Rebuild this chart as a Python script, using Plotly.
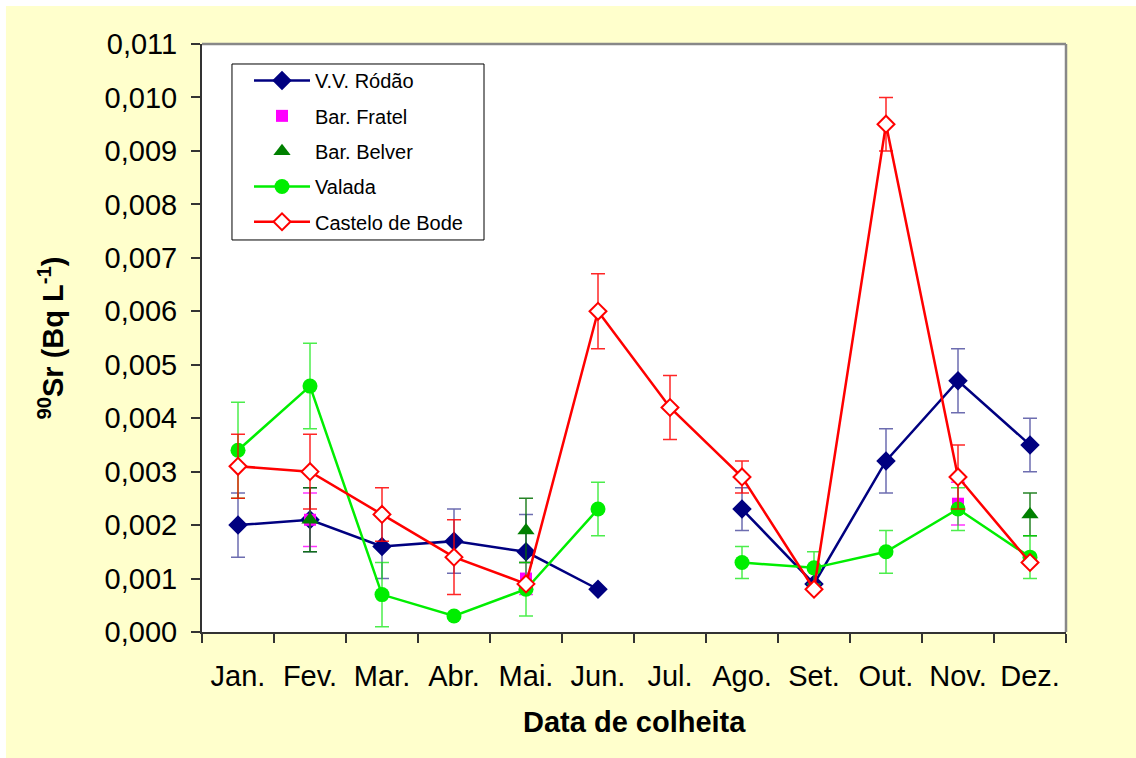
import plotly.graph_objects as go

months = ["Jan.", "Fev.", "Mar.", "Abr.", "Mai.", "Jun.", "Jul.", "Ago.", "Set.", "Out.", "Nov.", "Dez."]

rodao = [0.0020, 0.0021, 0.0016, 0.0017, 0.0015, 0.0008, None, 0.0023, 0.0009, 0.0032, 0.0047, 0.0035]
rodao_err = [0.0006, 0.0006, 0.0006, 0.0006, 0.0007, 0, 0, 0.0004, 0, 0.0006, 0.0006, 0.0005]

fratel = [None, 0.0021, None, None, 0.0010, None, None, None, None, None, 0.0024, None]
fratel_err = [0, 0.0005, 0, 0, 0.0003, 0, 0, 0, 0, 0, 0.0004, 0]

belver = [None, 0.0021, None, None, 0.0019, None, None, None, None, None, None, 0.0022]
belver_err = [0, 0.0006, 0, 0, 0.0006, 0, 0, 0, 0, 0, 0, 0.0004]

valada = [0.0034, 0.0046, 0.0007, 0.0003, 0.0008, 0.0023, None, 0.0013, 0.0012, 0.0015, 0.0023, 0.0014]
valada_err = [0.0009, 0.0008, 0.0006, 0, 0.0005, 0.0005, 0, 0.0003, 0.0003, 0.0004, 0.0004, 0.0004]

castelo = [0.0031, 0.0030, 0.0022, 0.0014, 0.0009, 0.0060, 0.0042, 0.0029, 0.0008, 0.0095, 0.0029, 0.0013]
castelo_err = [0.0006, 0.0007, 0.0005, 0.0007, 0, 0.0007, 0.0006, 0.0003, 0, 0.0005, 0.0006, 0]

y_ticks = [i / 1000 for i in range(0, 12)]

FONT = "Liberation Sans, Arial, sans-serif"

fig = go.Figure()

def add(name, y, err, color, errcolor, symbol, size, mode, fill=None, lw=2.5, group="g"):
    fig.add_trace(go.Scatter(
        x=months, y=y, name=name, mode=mode, legendgroup=group,
        connectgaps=False,
        line=dict(color=color, width=lw),
        marker=dict(symbol=symbol, size=size, color=fill if fill else color,
                    line=dict(color=color, width=2 if fill else 0)),
        error_y=dict(type="data", array=err, visible=True, color=errcolor,
                     thickness=1.5, width=7),
    ))

add("V.V. Ródão", rodao, rodao_err, "#000080", "rgba(60,60,150,0.75)", "diamond", 15, "lines+markers", group="a")
add("Bar. Fratel", fratel, fratel_err, "#FF00FF", "rgba(255,0,255,0.8)", "square", 12, "markers", group="b")
add("Bar. Belver", belver, belver_err, "#008000", "rgba(0,110,0,0.85)", "triangle-up", 15, "markers", group="c")
add("Valada", valada, valada_err, "#00EE00", "rgba(0,230,0,0.7)", "circle", 15, "lines+markers", group="d")
add("Castelo de Bode", castelo, castelo_err, "#FF0000", "rgba(255,0,0,0.85)", "diamond", 13, "lines+markers", fill="white", group="e")

fig.update_layout(
    width=1136, height=758,
    margin=dict(l=202, r=70, t=44, b=126),
    paper_bgcolor="#FFFFCC",
    plot_bgcolor="white",
    separators=", ",
    font=dict(family=FONT, color="black"),
    showlegend=True,
    legend=dict(
        x=0.0544, y=0.971, xanchor="left", yanchor="top",
        bgcolor="rgba(0,0,0,0)", borderwidth=0,
        font=dict(family=FONT, size=20),
        traceorder="grouped", tracegroupgap=6.3,
        itemwidth=56,
    ),
    xaxis=dict(
        type="category", categoryorder="array", categoryarray=months,
        range=[-0.5, 11.5],
        showline=True, linecolor="#333", linewidth=2, mirror=False,
        ticks="outside", ticklen=9, tickcolor="#333", tickwidth=1.5,
        tickson="boundaries",
        tickfont=dict(size=29),
        ticklabelstandoff=17,
        showgrid=False,
    ),
    yaxis=dict(
        range=[0, 0.011],
        tickvals=y_ticks, tickformat=".3f",
        showline=True, linecolor="#333", linewidth=2, mirror=False,
        ticks="outside", ticklen=9, tickcolor="#333", tickwidth=1.5,
        tickfont=dict(size=29),
        ticklabelstandoff=8,
        showgrid=False, zeroline=False,
        title=dict(text="<b><sup>90</sup>Sr (Bq L<sup>-1</sup>)</b>", font=dict(size=29), standoff=32),
    ),
    annotations=[
        dict(text="<b>Data de colheita</b>", xref="paper", yref="paper",
             x=0.5, y=-0.1533, xanchor="center", yanchor="middle",
             showarrow=False, font=dict(size=29)),
    ],
    shapes=[
        # plot frame top / right (grey)
        dict(type="line", xref="paper", yref="paper", x0=0, x1=1, y0=1, y1=1,
             line=dict(color="#888888", width=2.5), layer="above"),
        dict(type="line", xref="paper", yref="paper", x0=1, x1=1, y0=0, y1=1,
             line=dict(color="#888888", width=2.5), layer="above"),
        # legend box
        dict(type="rect", xref="paper", yref="paper", x0=0.0347, x1=0.3264, y0=0.6667, y1=0.966,
             fillcolor="white", line=dict(color="black", width=1), layer="above"),
        # white page strips outside the yellow chart area
        dict(type="rect", xref="paper", yref="paper", x0=-0.3, x1=1.2, y0=1.0646, y1=1.2,
             fillcolor="white", line=dict(width=0), layer="above"),
        dict(type="rect", xref="paper", yref="paper", x0=-0.3, x1=-0.2269, y0=-0.3, y1=1.2,
             fillcolor="white", line=dict(width=0), layer="above"),
    ],
)

fig.write_html("out.html")
